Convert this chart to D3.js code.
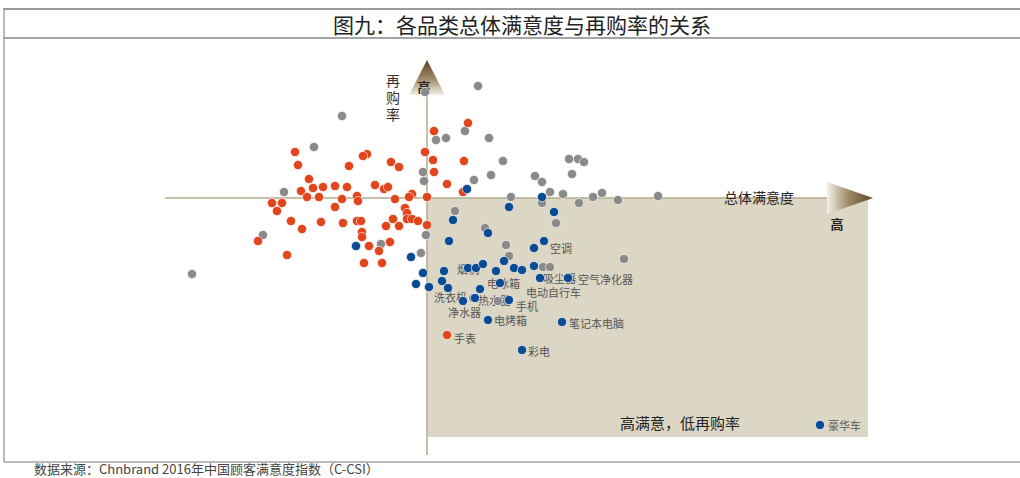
<!DOCTYPE html>
<html>
<head>
<meta charset="utf-8">
<script src="https://cdn.jsdelivr.net/npm/d3@7"></script>
<style>
  html, body { margin: 0; padding: 0; background: #fff; }
  svg { display: block; font-family: "Noto Sans CJK SC", "Noto Sans", sans-serif; }
</style>
</head>
<body>
<div id="chart"></div>
<script>
// satisfaction index (x), repurchase rate % (y)
var redPoints = [
  [68.4,69.2],[68.55,66.6],[72,68.8],[71.8,68.4],[71.1,66.4],[73.2,67.2],[73.6,66.2],[74.9,69.2],
  [75.3,67.6],[75.35,73.4],[75.35,65.2],[77.05,75],[76.85,67.4],[76,62.8],[76.8,61.2],
  [69.1,63.8],[68.7,61.4],[69.3,62],[69.8,62.2],[70.4,62.4],[71,62.2],[72.4,62.6],[72.85,61.8],
  [73.05,62.2],[74.25,60.8],[74.1,60.2],[69,60.2],[69.6,60.2],[70.75,59.8],[71.5,60.4],[71.55,59.4],
  [73.4,59.8],[75,60.2],[67.25,59],[67.75,59],[67.5,57.4],[70.4,58.2],[73.9,58],[74,57],
  [74,55.8],[74.25,55.8],[74.55,55.4],[75,54.6],[68.2,55.4],[68.75,53.8],[69.7,55.2],[70.8,55],
  [71.5,55.4],[71.7,55.4],[71.75,53.2],[71.75,52.2],[72.95,54.4],[73.3,55.8],[73.6,54.4],
  [66.55,51.4],[72.1,50.4],[73.15,51.2],[72.6,49.4],[68,48.6],[71.85,47],[72.75,47],[76,32.6]
];
var grayPoints = [
  [63.25,44.8],[66.8,52.6],[67.85,61.2],[69.35,70.2],[70.75,76.4],[72.7,50.8],[74.7,49],[74.8,65.2],
  [74.85,63.4],[74.9,81.2],[74.95,52.6],[75.45,71.6],[75.95,72],[76.4,57.4],[76.9,73.4],[77.35,63.6],
  [77.55,82.4],[77.9,54],[78.1,72],[78.2,64.6],[78.8,67.4],[78.95,50.6],[79.1,48.4],[79.2,60.2],
  [80.4,64.4],[80.75,63.2],[80.75,59],[80.8,46.2],[81.15,46.2],[81.15,61.2],[81.45,55],[81.8,60.8],
  [82.1,67.8],[82.55,67.8],[82.85,67.2],[82.25,64.8],[82.6,59],[83.3,60.2],[83.75,61],[84.55,59.6],
  [84.85,47.8],[86.55,60.4],[77.3,40],[78.55,39.4]
];
var bluePoints = [
  [71.45,50.4],[74.2,48.2],[74.45,42.8],[74.8,45],[75.1,42.2],[75.75,43.4],[75.85,45.4],[76.05,42],
  [76.1,51.4],[76.3,55.6],[76.8,39.4],[77,61.8],[77.05,46],[77.45,46],[77.4,40],[77.65,41.8],
  [77.8,46.8],[78.05,53],[78.45,45.4],[78.65,43],[78.85,47.4],[79.1,39.6],[79.1,58.2],[79.35,46],
  [79.75,45.6],[80.35,46.4],[80.35,50],[80.65,44],[80.75,60.2],[80.85,51.4],[81.35,57.2],[82.05,44],
  [78.05,35.6],[81.75,35.2],[79.75,29.6],[94.65,14.6]
];
var labels = [
  ["空调",80.8,50],["烟机",76.15,45.8],["吸尘器",80.45,44],["空气净化器",82.2,43.8],
  ["电冰箱",77.65,43],["电动自行车",79.6,41.2],["洗衣机",75,40.3],["热水器",77.2,39.6],
  ["手机",79.1,38.4],["净水器",75.7,37.2],["电烤箱",78,35.6],["笔记本电脑",81.75,35],
  ["手表",76,32],["彩电",79.7,29.4],["豪华车",94.7,14.6]
];
var axisCross = [75, 60];
var xAxisEnd = [61.9, 95, 97.3];   // start, arrow base, arrow tip
var yAxisEnd = [8.6, 80.6, 87.6];
var quadrantEnd = [97.05, 12.2];

var W = 1020, H = 478;
var x = d3.scaleLinear().domain([60, 100]).range([127, 927]);
var y = d3.scaleLinear().domain([10, 90]).range([448, 48]);

var svg = d3.select("#chart").append("svg").attr("width", W).attr("height", H);

var defs = svg.append("defs");
var gH = defs.append("linearGradient").attr("id", "gradH").attr("x1", "0%").attr("x2", "100%").attr("y1", "0%").attr("y2", "0%");
gH.append("stop").attr("offset", "0%").attr("stop-color", "#f4f1ea");
gH.append("stop").attr("offset", "45%").attr("stop-color", "#a08c68");
gH.append("stop").attr("offset", "100%").attr("stop-color", "#5a4322");
var gV = defs.append("linearGradient").attr("id", "gradV").attr("x1", "0%").attr("x2", "0%").attr("y1", "100%").attr("y2", "0%");
gV.append("stop").attr("offset", "0%").attr("stop-color", "#f4f1ea");
gV.append("stop").attr("offset", "45%").attr("stop-color", "#a08c68");
gV.append("stop").attr("offset", "100%").attr("stop-color", "#5a4322");

// frame
svg.append("line").attr("x1", 3).attr("x2", W).attr("y1", 9).attr("y2", 9).attr("stroke", "#9a9a9a").attr("stroke-width", 2);
svg.append("line").attr("x1", 3).attr("x2", W).attr("y1", 38).attr("y2", 38).attr("stroke", "#a5a5a5").attr("stroke-width", 2);
svg.append("line").attr("x1", 4).attr("x2", 4).attr("y1", 9).attr("y2", 462).attr("stroke", "#a5a5a5").attr("stroke-width", 1.5);
svg.append("line").attr("x1", 4).attr("x2", W).attr("y1", 462).attr("y2", 462).attr("stroke", "#a5a5a5").attr("stroke-width", 1.5);

svg.append("text").attr("x", 522).attr("y", 24).attr("text-anchor", "middle").attr("dominant-baseline", "central")
  .attr("font-size", 21).attr("fill", "#222").text("图九：各品类总体满意度与再购率的关系");

svg.append("text").attr("x", 34).attr("y", 468).attr("dominant-baseline", "central").attr("font-size", 13).attr("fill", "#444")
  .text("数据来源：Chnbrand 2016年中国顾客满意度指数（C-CSI）");

// quadrant: high satisfaction, low repurchase
svg.append("rect")
  .attr("x", x(axisCross[0])).attr("y", y(axisCross[1]))
  .attr("width", x(quadrantEnd[0]) - x(axisCross[0]))
  .attr("height", y(quadrantEnd[1]) - y(axisCross[1]))
  .attr("fill", "#dcd7c4");

// axes
svg.append("line").attr("x1", x(xAxisEnd[0])).attr("x2", x(xAxisEnd[1]))
  .attr("y1", y(axisCross[1])).attr("y2", y(axisCross[1])).attr("stroke", "#b4ab8c").attr("stroke-width", 1.5);
svg.append("line").attr("x1", x(axisCross[0])).attr("x2", x(axisCross[0]))
  .attr("y1", y(yAxisEnd[0])).attr("y2", y(yAxisEnd[1])).attr("stroke", "#b4ab8c").attr("stroke-width", 1.5);

var ah = 16;
svg.append("path")
  .attr("d", "M" + x(xAxisEnd[1]) + "," + (y(axisCross[1]) - ah) + "L" + x(xAxisEnd[2]) + "," + y(axisCross[1]) +
    "L" + x(xAxisEnd[1]) + "," + (y(axisCross[1]) + ah) + "Z")
  .attr("fill", "url(#gradH)");
svg.append("path")
  .attr("d", "M" + (x(axisCross[0]) - 18) + "," + y(yAxisEnd[1]) + "L" + x(axisCross[0]) + "," + y(yAxisEnd[2]) +
    "L" + (x(axisCross[0]) + 18) + "," + y(yAxisEnd[1]) + "Z")
  .attr("fill", "url(#gradV)");

svg.append("text").attr("x", 724).attr("y", y(axisCross[1]) - 1).attr("dominant-baseline", "central")
  .attr("font-size", 14).attr("fill", "#222").text("总体满意度");
svg.append("text").attr("x", 837).attr("y", 223).attr("text-anchor", "middle").attr("dominant-baseline", "central")
  .attr("font-size", 13).attr("font-weight", "bold").attr("fill", "#222").text("高");
svg.append("text").attr("x", 424).attr("y", 86).attr("text-anchor", "middle").attr("dominant-baseline", "central")
  .attr("font-size", 13).attr("font-weight", "bold").attr("fill", "#222").text("高");
svg.append("text").attr("x", 393).attr("y", 74)
  .style("writing-mode", "vertical-rl").attr("letter-spacing", 3)
  .attr("font-size", 14).attr("fill", "#333").text("再购率");
svg.append("text").attr("x", 680).attr("y", 422).attr("text-anchor", "middle").attr("dominant-baseline", "central")
  .attr("font-size", 15).attr("fill", "#222").text("高满意，低再购率");

// category labels (under the dots)
svg.append("g").selectAll("text").data(labels).enter().append("text")
  .attr("x", function(d) { return x(d[1]) + 7; })
  .attr("y", function(d) { return y(d[2]); })
  .attr("dominant-baseline", "central")
  .attr("font-size", 11).attr("fill", "#555")
  .text(function(d) { return d[0]; });

function drawDots(data, color) {
  svg.append("g").selectAll("circle").data(data).enter().append("circle")
    .attr("cx", function(d) { return x(d[0]); })
    .attr("cy", function(d) { return y(d[1]); })
    .attr("r", 4.6)
    .attr("fill", color)
    .attr("stroke", "#fff").attr("stroke-width", 0.6);
}
drawDots(grayPoints, "#8a8a8a");
drawDots(redPoints, "#e2451c");
drawDots(bluePoints, "#0b4b93");
</script>
</body>
</html>
